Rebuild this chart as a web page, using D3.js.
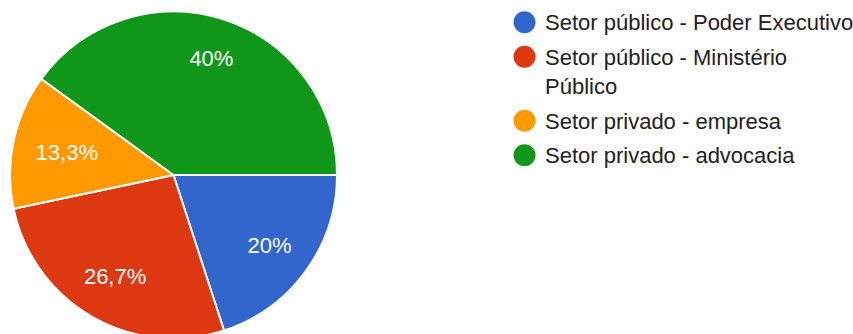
<!DOCTYPE html>
<html>
<head>
<meta charset="utf-8">
<script src="https://cdn.jsdelivr.net/npm/d3@7"></script>
<style>
  html, body { margin: 0; padding: 0; background: #ffffff; }
  svg { display: block; }
</style>
</head>
<body>
<svg id="chart" width="853" height="334"></svg>
<script>
// Respondent sector shares
const categories = [
  "Setor público - Poder Executivo",
  "Setor público - Ministério Público",
  "Setor privado - empresa",
  "Setor privado - advocacia"
];
const values = [20, 26.7, 13.3, 40];
const labels = ["20%", "26,7%", "13,3%", "40%"];
const colors = ["#3366cc", "#dc3912", "#ff9900", "#109618"];

const svg = d3.select("#chart");
const fontFamily = "Arial, 'Liberation Sans', sans-serif";
const fontSize = 22;

const cx = 173.5, cy = 175, radius = 163.5;

// Slices run clockwise starting at 3 o'clock
const pie = d3.pie()
  .sort(null)
  .value(d => d.value)
  .startAngle(Math.PI / 2)
  .endAngle(Math.PI / 2 + 2 * Math.PI);

const data = categories.map((c, i) => ({ name: c, value: values[i], label: labels[i], color: colors[i] }));
const arcs = pie(data);

const arc = d3.arc().innerRadius(0).outerRadius(radius);

const g = svg.append("g").attr("transform", `translate(${cx},${cy})`);

g.selectAll("path.slice")
  .data(arcs)
  .join("path")
  .attr("class", "slice")
  .attr("d", arc)
  .attr("fill", d => d.data.color)
  .attr("stroke", "#ffffff")
  .attr("stroke-width", 2)
  .attr("stroke-linejoin", "round");

// Percent labels: start at 3/4 of the radius and pull inward until the
// text box stays well clear of the rim.
const pct = g.selectAll("text.pct")
  .data(arcs)
  .join("text")
  .attr("class", "pct")
  .attr("text-anchor", "middle")
  .attr("dy", "0.36em")
  .attr("fill", "#ffffff")
  .attr("font-family", fontFamily)
  .attr("font-size", fontSize)
  .text(d => d.data.label);

const capH = fontSize * 0.72;
const rimLimit = radius * 0.865;
pct.each(function(d) {
  const w = this.getComputedTextLength();
  const a = (d.startAngle + d.endAngle) / 2;
  const ux = Math.sin(a), uy = -Math.cos(a);
  let r = radius * 0.75;
  const far = rr => Math.hypot(Math.abs(ux * rr) + w / 2, Math.abs(uy * rr) + capH / 2);
  while (r > 0 && far(r) > rimLimit) r -= 0.5;
  d3.select(this).attr("transform", `translate(${ux * r},${uy * r})`);
});

// Legend with wrapped entries
const legend = svg.append("g");
const legendX = 524.5, textX = 545, firstY = 22.3;
const lineH = 29.5, itemGap = 34.5, maxTextW = 314;
let y = firstY;

data.forEach(d => {
  legend.append("circle")
    .attr("cx", legendX)
    .attr("cy", y)
    .attr("r", 11)
    .attr("fill", d.color);

  const t = legend.append("text")
    .attr("x", textX)
    .attr("y", y)
    .attr("fill", "#212121")
    .attr("font-family", fontFamily)
    .attr("font-size", fontSize);

  const words = d.name.split(" ");
  let line = [];
  let tspan = t.append("tspan").attr("x", textX).attr("y", y).attr("dy", "0.36em");
  let lines = 1;
  words.forEach(w => {
    line.push(w);
    tspan.text(line.join(" "));
    if (tspan.node().getComputedTextLength() > maxTextW && line.length > 1) {
      line.pop();
      tspan.text(line.join(" "));
      line = [w];
      tspan = t.append("tspan")
        .attr("x", textX)
        .attr("y", y + lines * lineH)
        .attr("dy", "0.36em")
        .text(w);
      lines++;
    }
  });
  y += (lines - 1) * lineH + itemGap;
});
</script>
</body>
</html>
